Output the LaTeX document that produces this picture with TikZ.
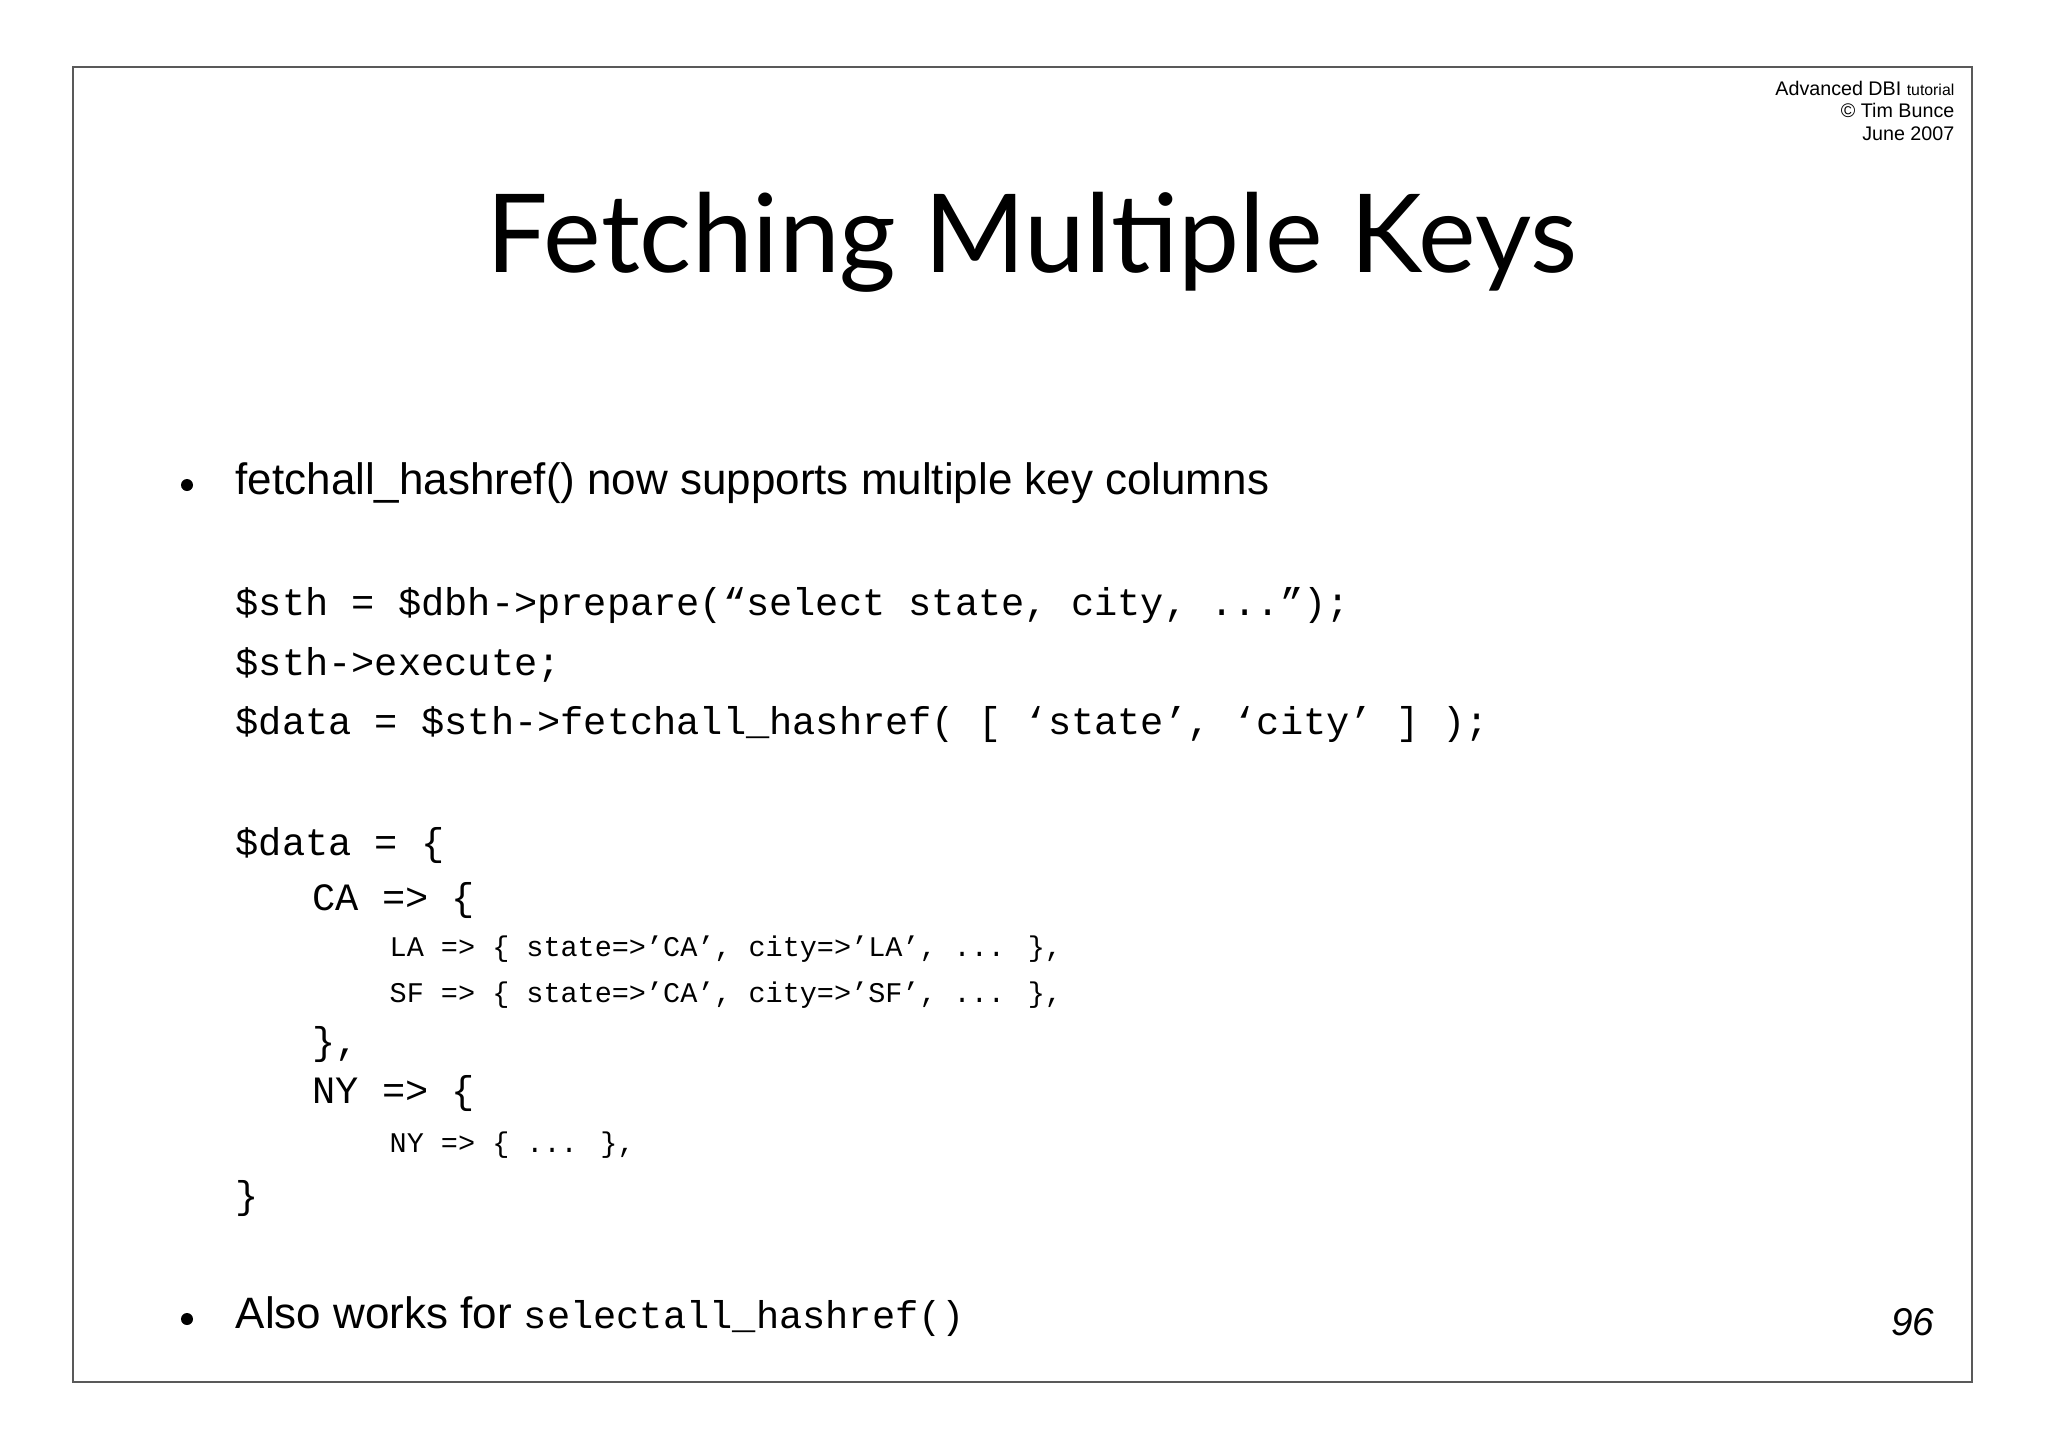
\documentclass[tikz,border=0pt]{standalone}
\usepackage{fontspec}
\setmainfont{Liberation Sans}
\newfontfamily\titlefont{Lato}
\newfontfamily\codefont{Liberation Mono}
\begin{document}
\begin{tikzpicture}[x=0.01cm,y=-0.01cm,
  txt/.style={anchor=mid west,inner sep=0pt,font=\fontsize{12.5}{14}\selectfont},
  code/.style={anchor=mid west,inner sep=0pt,font=\codefont\fontsize{11}{13}\selectfont},
  small/.style={anchor=mid west,inner sep=0pt,font=\codefont\fontsize{8.1}{10}\selectfont},
  hdr/.style={anchor=mid east,inner sep=0pt,font=\fontsize{5.6}{7}\selectfont}]
\useasboundingbox (0,0) rectangle (2048,1448);
\draw[line width=0.5pt,gray!70!black] (73,67) rectangle (1972,1382);
\node[hdr] (h1) at (1955,86) {Advanced DBI {\fontsize{4.5}{6}\selectfont tutorial}};
\node[hdr] (h2) at (1955,108) {© Tim Bunce};
\node[hdr] (h3) at (1955,131) {June 2007};
\node[inner sep=0pt,font=\titlefont\fontsize{31}{36}\selectfont] (title) at (1032,242) {Fetching Multiple Keys};
\fill (187,485) circle (6) coordinate (b1);
\node[txt] (t1) at (235,485) {fetchall\_hashref() now supports multiple key columns};
\node[code] (c1) at (235,606) {\$sth = \$dbh->prepare(“select state, city, ...”);};
\node[code] (c2) at (235,666) {\$sth->execute;};
\node[code] (c3) at (235,725) {\$data = \$sth->fetchall\_hashref( [ ‘state’, ‘city’ ] );};
\node[code] (c4) at (235,846) {\$data = \{};
\node[code] (c5) at (312,901) {CA => \{};
\node[small] (c6) at (389,947) {LA => \{ state=>’CA’, city=>’LA’, ... \},};
\node[small] (c7) at (389,993) {SF => \{ state=>’CA’, city=>’SF’, ... \},};
\node[code] (c8) at (312,1045) {\},};
\node[code] (c9) at (312,1094) {NY => \{};
\node[small] (c10) at (389,1143) {NY => \{ ... \},};
\node[code] (c11) at (235,1199) {\}};
\fill (187,1319) circle (6) coordinate (b2);
\node[txt] (t2) at (235,1319) {Also works for {\codefont\fontsize{11}{13}\selectfont selectall\_hashref()}};
\node[anchor=mid east,inner sep=0pt,font=\itshape\fontsize{11}{13}\selectfont] (pg) at (1935,1326) {96};
\end{tikzpicture}
\end{document}
